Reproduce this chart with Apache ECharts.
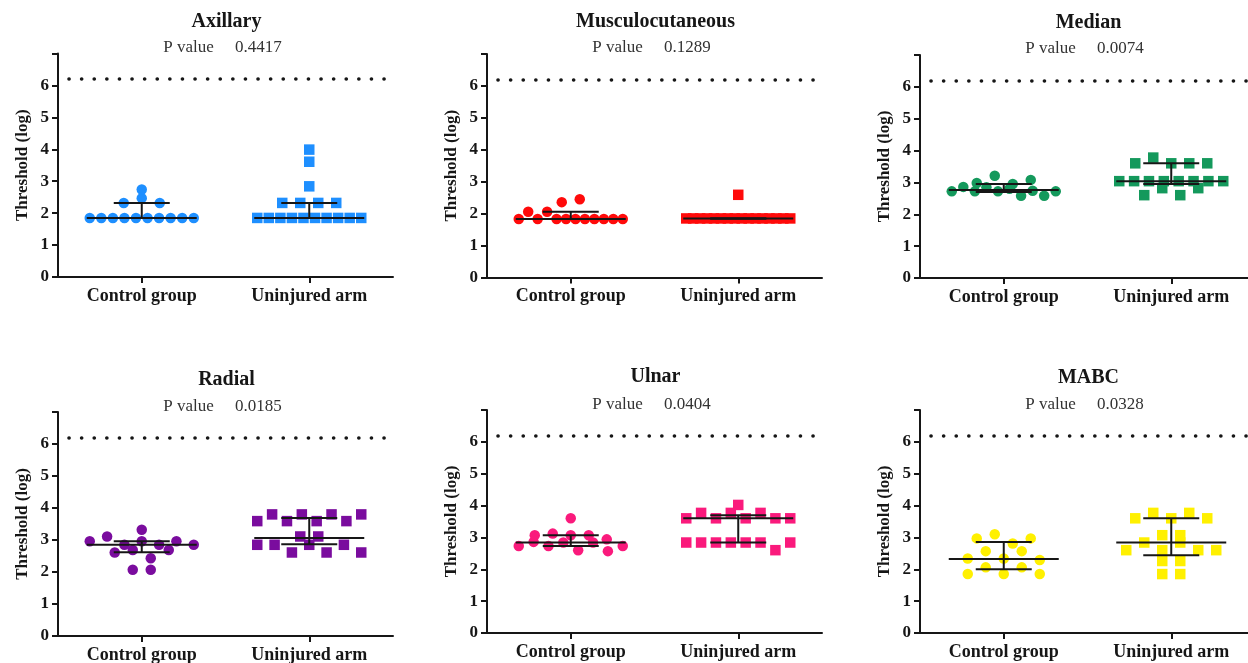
<!DOCTYPE html>
<html>
<head>
<meta charset="utf-8">
<script src="https://cdn.jsdelivr.net/npm/echarts@6/dist/echarts.min.js"></script>
<style>
  html, body { margin: 0; padding: 0; background: #fff; }
  #chart { width: 1248px; height: 663px; }
</style>
</head>
<body>
<div id="chart"></div>
<script>
// ---------------- data ----------------
const categories = ['Control group', 'Uninjured arm'];
const panelTitles = ['Axillary', 'Musculocutaneous', 'Median', 'Radial', 'Ulnar', 'MABC'];
const pValues = ['0.4417', '0.1289', '0.0074', '0.0185', '0.0404', '0.0328'];
const yTickLabels = [0, 1, 2, 3, 4, 5, 6];
const thresholdValue = 6.2;

const axillaryControl   = [1.85, 1.85, 1.85, 1.85, 1.85, 1.85, 1.85, 1.85, 1.85, 1.85, 2.32, 2.32, 2.47, 2.74];
const axillaryUninjured = [1.85, 1.85, 1.85, 1.85, 1.85, 1.85, 1.85, 1.85, 1.85, 1.85, 2.32, 2.32, 2.32, 2.32, 2.84, 3.61, 3.99];
const musculoControl    = [1.83, 1.83, 1.83, 1.83, 1.83, 1.83, 1.83, 1.83, 1.83, 1.83, 2.06, 2.06, 2.36, 2.45];
const musculoUninjured  = [1.85, 1.85, 1.85, 1.85, 1.85, 1.85, 1.85, 1.85, 1.85, 1.85, 1.85, 1.85, 1.85, 1.85, 1.85, 1.85, 2.59];
const medianControl     = [2.72, 2.86, 3.08, 2.72, 2.85, 2.98, 2.58, 2.80, 3.21, 2.72, 2.72, 2.95, 2.58, 2.74];
const medianUninjured   = [3.60, 3.78, 3.60, 3.60, 3.60, 3.04, 3.04, 3.04, 3.04, 3.04, 3.04, 3.04, 3.04, 2.82, 2.82, 2.60, 2.60];
const radialControl     = [2.85, 2.96, 2.85, 2.43, 2.69, 3.32, 2.96, 2.61, 3.11, 2.69, 2.96, 2.85, 2.07, 2.07];
const radialUninjured   = [3.59, 3.80, 3.80, 3.80, 3.59, 3.80, 3.59, 3.59, 3.11, 2.85, 2.85, 2.85, 3.11, 2.85, 2.61, 2.61, 2.61];
const ulnarControl      = [3.07, 2.73, 2.84, 3.07, 2.73, 2.86, 3.60, 2.94, 2.57, 2.84, 3.07, 2.60, 3.12, 2.73];
const ulnarUninjured    = [4.02, 3.77, 3.60, 3.60, 3.77, 3.60, 3.77, 3.60, 3.60, 2.84, 2.84, 2.84, 2.84, 2.84, 2.84, 2.84, 2.60];
const mabcControl       = [2.34, 1.85, 2.97, 2.57, 2.06, 2.81, 2.34, 1.85, 2.97, 2.57, 2.06, 3.10, 2.29, 1.85];
const mabcUninjured     = [3.60, 3.77, 3.60, 3.77, 3.60, 3.07, 3.07, 2.60, 2.84, 2.84, 2.60, 2.60, 2.60, 2.26, 2.26, 1.85, 1.85];

// [median, q1, q3] per group (control, uninjured)
const axillaryStats = [[1.85, 1.85, 2.32], [1.85, 1.85, 2.32]];
const musculoStats  = [[1.83, 1.83, 2.06], [1.85, 1.85, 1.85]];
const medianStats   = [[2.76, 2.70, 2.95], [3.04, 2.95, 3.60]];
const radialStats   = [[2.85, 2.62, 2.96], [3.06, 2.87, 3.69]];
const ulnarStats    = [[2.84, 2.73, 3.07], [3.60, 2.84, 3.70]];
const mabcStats     = [[2.32, 2.00, 2.86], [2.84, 2.44, 3.60]];

const groupData = [
  [axillaryControl, axillaryUninjured, axillaryStats],
  [musculoControl, musculoUninjured, musculoStats],
  [medianControl, medianUninjured, medianStats],
  [radialControl, radialUninjured, radialStats],
  [ulnarControl, ulnarUninjured, ulnarStats],
  [mabcControl, mabcUninjured, mabcStats]
];

// ---------------- layout & style ----------------
const colors = ['#1e8fff', '#ff0a0a', '#14995c', '#7a0c9e', '#fa1a7c', '#fff000'];
const GRID_W = 335;
const layout = [
  { left: 58,  top: 53.5, height: 223.5, titleY: 22,  pY: 48 },
  { left: 487, top: 54,   height: 223.5, titleY: 22,  pY: 48 },
  { left: 920, top: 55,   height: 223,   titleY: 23,  pY: 49 },
  { left: 58,  top: 412,  height: 224,   titleY: 380, pY: 407 },
  { left: 487, top: 410,  height: 223,   titleY: 377, pY: 405 },
  { left: 920, top: 410,  height: 223,   titleY: 378, pY: 405 }
];
const FONT = '"Liberation Serif", "Times New Roman", serif';
const INK = '#161616';
const MARK = 10.5;

// beeswarm layout (Prism-like rows), computed from the values
const BIN_H = 0.3, MAX_SP = 18, ROW_W = 104;
function swarm(values, center, pxPerUnit) {
  const sorted = values.slice().sort((a, b) => a - b);
  const bins = []; let cur = [];
  for (const v of sorted) {
    if (cur.length && v - cur[0] >= BIN_H) { bins.push(cur); cur = []; }
    cur.push(v);
  }
  if (cur.length) bins.push(cur);
  const pts = [];
  for (const bin of bins) {
    const n = bin.length;
    const sp = n > 1 ? Math.min(MAX_SP, ROW_W / (n - 1)) : 0;
    const even = [], odd = [];
    for (let i = 0; i < n; i++) (i % 2 === 0 ? even : odd).push(i);
    const order = even.reverse().concat(odd.reverse());
    bin.forEach((v, k) => {
      const off = (order[k] - (n - 1) / 2) * sp;
      pts.push([center + off / pxPerUnit, v]);
    });
  }
  return pts;
}

function errorBars(params, api) {
  const x = api.value(0), med = api.value(1), lo = api.value(2), hi = api.value(3);
  const pM = api.coord([x, med]), pL = api.coord([x, lo]), pH = api.coord([x, hi]);
  const st = { stroke: INK, lineWidth: 2 };
  return {
    type: 'group',
    children: [
      { type: 'line', shape: { x1: pM[0] - 55, y1: pM[1], x2: pM[0] + 55, y2: pM[1] }, style: st },
      { type: 'line', shape: { x1: pL[0], y1: pL[1], x2: pH[0], y2: pH[1] }, style: st },
      { type: 'line', shape: { x1: pL[0] - 28, y1: pL[1], x2: pL[0] + 28, y2: pL[1] }, style: st },
      { type: 'line', shape: { x1: pH[0] - 28, y1: pH[1], x2: pH[0] + 28, y2: pH[1] }, style: st }
    ]
  };
}

const grids = [], xAxes = [], yAxes = [], series = [], graphics = [];
layout.forEach((L, i) => {
  grids.push({ left: L.left, top: L.top, width: GRID_W, height: L.height, containLabel: false, outerBoundsMode: 'none' });
  xAxes.push({
    gridIndex: i, type: 'value', min: 0, max: 2,
    splitLine: { show: false },
    axisLine: { show: true, lineStyle: { color: INK, width: 2 } },
    axisTick: { show: true, customValues: [0.5, 1.5], length: 6, lineStyle: { color: INK, width: 2 } },
    axisLabel: {
      customValues: [0.5, 1.5],
      formatter: v => categories[v < 1 ? 0 : 1],
      fontFamily: FONT, fontWeight: 'bold', fontSize: 18, color: INK, margin: 10
    }
  });
  yAxes.push({
    gridIndex: i, type: 'value', min: 0, max: 7, interval: 1,
    splitLine: { show: false },
    axisLine: { show: true, lineStyle: { color: INK, width: 2 } },
    axisTick: { show: true, length: 6, lineStyle: { color: INK, width: 2 } },
    axisLabel: {
      formatter: v => (yTickLabels.indexOf(v) >= 0 ? String(v) : ''),
      fontFamily: FONT, fontWeight: 'bold', fontSize: 17, color: INK, margin: 9
    },
    name: 'Threshold (log)', nameLocation: 'middle', nameRotate: 90, nameGap: 27,
    nameTextStyle: { fontFamily: FONT, fontWeight: 'bold', fontSize: 17, color: INK }
  });
  const pxPerUnit = GRID_W / 2;
  const [ctrl, uninj, stats] = groupData[i];
  series.push({
    type: 'scatter', xAxisIndex: i, yAxisIndex: i, silent: true, z: 2,
    symbol: 'circle', symbolSize: MARK, itemStyle: { color: colors[i], opacity: 1 },
    data: swarm(ctrl, 0.5, pxPerUnit),
    markLine: {
      silent: true, symbol: 'none', label: { show: false },
      lineStyle: { color: INK, width: 3.6, type: [0.1, 12.5], dashOffset: 1.6, cap: 'round' },
      emphasis: { disabled: true },
      data: [{ yAxis: thresholdValue }]
    }
  });
  series.push({
    type: 'scatter', xAxisIndex: i, yAxisIndex: i, silent: true, z: 2,
    symbol: 'rect', symbolSize: MARK, itemStyle: { color: colors[i], opacity: 1 },
    data: swarm(uninj, 1.5, pxPerUnit)
  });
  series.push({
    type: 'custom', xAxisIndex: i, yAxisIndex: i, silent: true, z: 3,
    renderItem: errorBars, encode: { x: 0, y: [1, 2, 3] },
    data: [[0.5].concat(stats[0]), [1.5].concat(stats[1])]
  });
  const cx = L.left + GRID_W / 2;
  graphics.push({
    type: 'text', x: cx + 1, y: L.titleY, silent: true,
    style: { text: panelTitles[i], font: 'bold 20px ' + FONT, fill: INK, textAlign: 'center', textVerticalAlign: 'middle' }
  });
  graphics.push({
    type: 'text', x: cx - 3, y: L.pY, silent: true,
    style: { text: 'P value     ' + pValues[i], font: '17px ' + FONT, fill: '#333', textAlign: 'center', textVerticalAlign: 'middle' }
  });
});

const chart = echarts.init(document.getElementById('chart'), null, { renderer: 'canvas' });
chart.setOption({
  backgroundColor: '#ffffff',
  animation: false,
  grid: grids, xAxis: xAxes, yAxis: yAxes, series: series, graphic: graphics
});
</script>
</body>
</html>
